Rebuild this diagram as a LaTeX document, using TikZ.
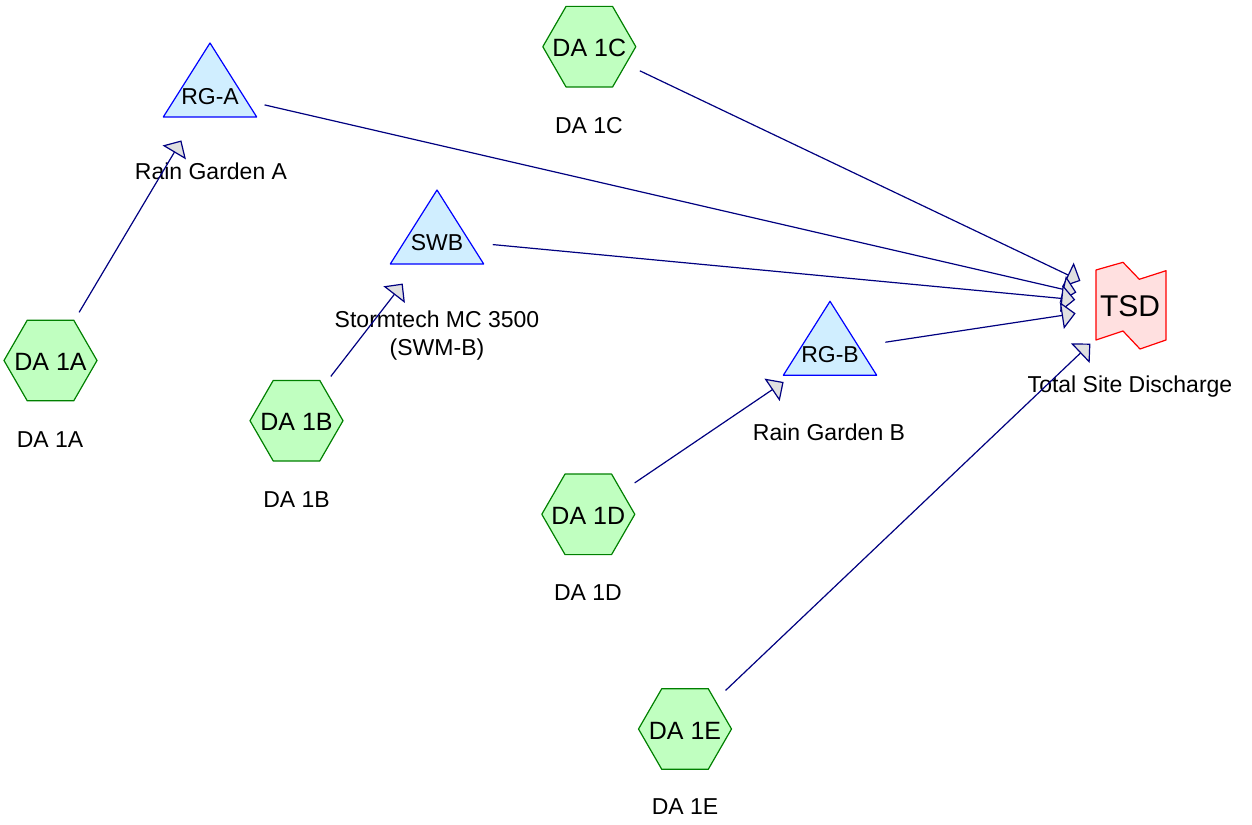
\documentclass[tikz,border=0pt]{standalone}
\usepackage{fontspec}
\setmainfont{Liberation Sans}
\usetikzlibrary{arrows.meta}
\definecolor{hexfill}{RGB}{192,255,192}
\definecolor{hexline}{RGB}{0,128,0}
\definecolor{trifill}{RGB}{208,238,255}
\definecolor{triline}{RGB}{0,0,255}
\definecolor{tsdfill}{RGB}{255,224,224}
\definecolor{tsdline}{RGB}{255,0,0}
\definecolor{navyline}{RGB}{0,0,128}
\definecolor{tipfill}{RGB}{224,224,224}
\begin{document}
\begin{tikzpicture}[x=1pt,y=-1pt,
  hexshape/.style={draw=hexline, fill=hexfill, line width=1.2pt, line join=round},
  trishape/.style={draw=triline, fill=trifill, line width=1.2pt, line join=round},
  tsdshape/.style={draw=tsdline, fill=tsdfill, line width=1.2pt, line join=round},
  hextext/.style={font=\fontsize{25}{30}\selectfont, inner sep=0pt},
  tritext/.style={font=\fontsize{23}{27}\selectfont, inner sep=0pt},
  tsdtext/.style={font=\fontsize{30}{36}\selectfont, inner sep=0pt},
  lbl/.style={font=\fontsize{23}{27}\selectfont, anchor=base, inner sep=0pt},
  conn/.style={draw=navyline, line width=1.2pt, shorten <=56pt, shorten >=56pt,
    -{Triangle[length=14pt,width=27pt,fill=tipfill]}},
  hexa/.pic={\path[hexshape] (-46.5,0) -- (-23.25,-40.3) -- (23.25,-40.3) -- (46.5,0) -- (23.25,40.3) -- (-23.25,40.3) -- cycle;},
  tria/.pic={\path[trishape] (0,-49.3) -- (46.7,24.7) -- (-46.7,24.7) -- cycle;},
  tsda/.pic={\path[tsdshape] (-35,-35) -- (-8,-42.7) -- (8.3,-25.7) -- (35,-34.3) -- (35,35) -- (9,44) -- (-8,26) -- (-35,35) -- cycle;}
]
\useasboundingbox (0,0) rectangle (1252,824);
% centres
\coordinate (d1a) at (50.5,360.5);
\coordinate (d1b) at (296.5,420.7);
\coordinate (d1c) at (589.3,46.7);
\coordinate (d1d) at (588.3,514.3);
\coordinate (d1e) at (685,729);
\coordinate (rga) at (210,92.3);
\coordinate (swb) at (437,239.3);
\coordinate (rgb) at (830,350.6);
\coordinate (tsd) at (1131,305);
% shapes
\pic at (d1a) {hexa};
\pic at (d1b) {hexa};
\pic at (d1c) {hexa};
\pic at (d1d) {hexa};
\pic at (d1e) {hexa};
\pic at (rga) {tria};
\pic at (swb) {tria};
\pic at (rgb) {tria};
\pic at (tsd) {tsda};
% inner texts
\node[hextext] (t1a) at (50.5,362) {DA 1A};
\node[hextext] (t1b) at (296.5,422.2) {DA 1B};
\node[hextext] (t1c) at (589.3,48.2) {DA 1C};
\node[hextext] (t1d) at (588.3,515.8) {DA 1D};
\node[hextext] (t1e) at (685,730.5) {DA 1E};
\node[tritext] (trga) at (210,97) {RG-A};
\node[tritext] (tswb) at (437,243) {SWB};
\node[tritext] (trgb) at (830,355) {RG-B};
\node[tsdtext] (ttsd) at (1130,306) {TSD};
% labels
\node[lbl] (l1a) at (50,447) {DA 1A};
\node[lbl] (l1b) at (296.5,507) {DA 1B};
\node[lbl] (l1c) at (589,133) {DA 1C};
\node[lbl] (l1d) at (588,600) {DA 1D};
\node[lbl] (l1e) at (685,814) {DA 1E};
\node[lbl] (lrga) at (211,179) {Rain Garden A};
\node[lbl] (lswb1) at (437,327.3) {Stormtech MC 3500};
\node[lbl] (lswb2) at (437,355) {(SWM-B)};
\node[lbl] (lrgb) at (829,440) {Rain Garden B};
\node[lbl] (ltsd) at (1130,392) {Total Site Discharge};
% connectors
\draw[conn] (d1a) -- (rga);
\draw[conn] (d1b) -- (swb);
\draw[conn] (d1d) -- (rgb);
\draw[conn] (d1e) -- (tsd);
\draw[conn] (d1c) -- (tsd);
\draw[conn] (rga) -- (tsd);
\draw[conn] (swb) -- (tsd);
\draw[conn] (rgb) -- (tsd);
\end{tikzpicture}
\end{document}
